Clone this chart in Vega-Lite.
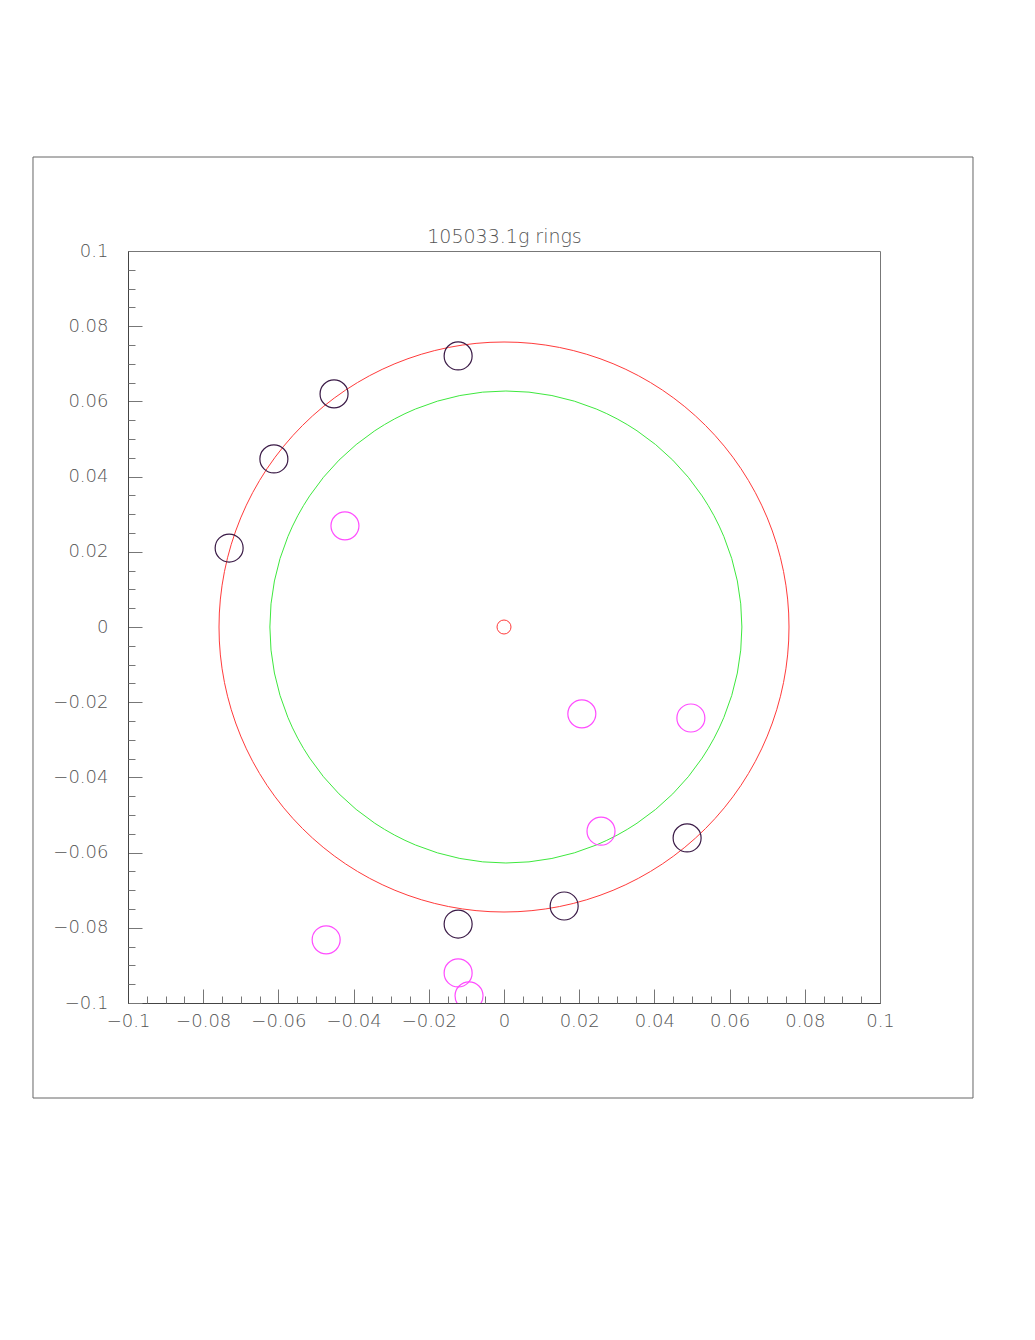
{
  "$schema": "https://vega.github.io/schema/vega-lite/v6.json",
  "autosize": {"type": "none"},
  "width": 752,
  "height": 752,
  "padding": {"left": 128, "top": 251, "right": 155, "bottom": 337},
  "background": "white",
  "config": {
    "view": {"stroke": "#777777", "strokeWidth": 1},
    "axis": {"grid": false, "domainColor": "#444444", "tickColor": "#777777", "labelColor": "#555555", "labelFont": "DejaVu Sans", "labelFontWeight": 200, "labelFontSize": 18}
  },
  "datasets": {
    "pts": [
      {"x": 0.0, "y": 0.0, "kind": "ring"},
      {"x": 0.0005, "y": 0.0, "kind": "inner"},
      {"x": 0.0, "y": 0.0, "kind": "center"},
      {"x": -0.0122, "y": 0.0721, "kind": "hit"},
      {"x": -0.0452, "y": 0.0620, "kind": "hit"},
      {"x": -0.0612, "y": 0.0447, "kind": "hit"},
      {"x": -0.0731, "y": 0.0210, "kind": "hit"},
      {"x": 0.0487, "y": -0.0561, "kind": "hit"},
      {"x": 0.0160, "y": -0.0742, "kind": "hit"},
      {"x": -0.0122, "y": -0.0790, "kind": "hit"},
      {"x": -0.0423, "y": 0.0269, "kind": "cand"},
      {"x": 0.0207, "y": -0.0231, "kind": "cand"},
      {"x": 0.0497, "y": -0.0242, "kind": "cand"},
      {"x": 0.0258, "y": -0.0543, "kind": "cand"},
      {"x": -0.0473, "y": -0.0832, "kind": "cand"},
      {"x": -0.0122, "y": -0.0920, "kind": "cand"},
      {"x": -0.0093, "y": -0.0981, "kind": "cand"}
    ],
    "frame": [
      {"x1": -0.12527, "x2": 0.12473, "y1": 0.125, "y2": -0.12527}
    ]
  },
  "resolve": {"axis": {"x": "independent", "y": "independent"}},
  "layer": [
    {
      "data": {"name": "frame"},
      "mark": {"type": "rect", "fill": null, "filled": false, "stroke": "#666666", "strokeWidth": 1, "clip": false},
      "encoding": {
        "x": {"field": "x1", "type": "quantitative", "scale": {"domain": [-0.1, 0.1], "nice": false, "zero": false}, "axis": {"orient": "top", "title": "105033.1g rings", "ticks": false, "labels": false, "domain": false, "titlePadding": 5, "titleFont": "DejaVu Sans", "titleFontWeight": 200, "titleFontSize": 19, "titleColor": "#555555"}},
        "x2": {"field": "x2"},
        "y": {"field": "y1", "type": "quantitative", "scale": {"domain": [-0.1, 0.1], "nice": false, "zero": false}, "axis": null},
        "y2": {"field": "y2"}
      }
    },
    {
      "data": {"name": "pts"},
      "transform": [{"filter": "datum.kind === 'ring'"}],
      "mark": {"type": "point", "shape": "circle", "filled": false, "stroke": "#ff3b3b", "strokeWidth": 1, "size": 324900, "opacity": 1, "clip": true},
      "encoding": {
        "x": {"field": "x", "type": "quantitative", "axis": null},
        "y": {"field": "y", "type": "quantitative", "axis": null}
      }
    },
    {
      "data": {"name": "pts"},
      "transform": [{"filter": "datum.kind === 'inner'"}],
      "mark": {"type": "point", "shape": "circle", "filled": false, "stroke": "#3ee83e", "strokeWidth": 1, "size": 222784, "opacity": 1, "clip": true},
      "encoding": {
        "x": {"field": "x", "type": "quantitative", "axis": null},
        "y": {"field": "y", "type": "quantitative", "axis": null}
      }
    },
    {
      "data": {"name": "pts"},
      "transform": [{"filter": "datum.kind === 'center'"}],
      "mark": {"type": "point", "shape": "circle", "filled": false, "stroke": "#ff3b3b", "strokeWidth": 1, "size": 196, "opacity": 1, "clip": true},
      "encoding": {
        "x": {"field": "x", "type": "quantitative", "axis": null},
        "y": {"field": "y", "type": "quantitative", "axis": null}
      }
    },
    {
      "data": {"name": "pts"},
      "transform": [{"filter": "datum.kind === 'hit'"}],
      "mark": {"type": "point", "shape": "circle", "filled": false, "stroke": "#3a1a46", "strokeWidth": 1.2, "size": 784, "opacity": 1, "clip": true},
      "encoding": {
        "x": {"field": "x", "type": "quantitative", "axis": {"orient": "bottom", "title": null, "values": [-0.1, -0.08, -0.06, -0.04, -0.02, 0, 0.02, 0.04, 0.06, 0.08, 0.1], "format": "~g", "tickSize": -14, "labelPadding": 23, "labelFlush": false, "labelOverlap": false, "labelBaseline": "top"}},
        "y": {"field": "y", "type": "quantitative", "axis": {"orient": "left", "title": null, "values": [-0.1, -0.08, -0.06, -0.04, -0.02, 0, 0.02, 0.04, 0.06, 0.08, 0.1], "format": "~g", "tickSize": -14, "labelPadding": 34, "labelFlush": false, "labelOverlap": false, "labelBaseline": "middle"}}
      }
    },
    {
      "data": {"name": "pts"},
      "transform": [{"filter": "datum.kind === 'cand'"}],
      "mark": {"type": "point", "shape": "circle", "filled": false, "stroke": "#ff4cff", "strokeWidth": 1.2, "size": 784, "opacity": 1, "clip": true},
      "encoding": {
        "x": {"field": "x", "type": "quantitative", "axis": {"orient": "bottom", "title": null, "values": [-0.095, -0.09, -0.085, -0.075, -0.07, -0.065, -0.055, -0.05, -0.045, -0.035, -0.03, -0.025, -0.015, -0.01, -0.005, 0.005, 0.01, 0.015, 0.025, 0.03, 0.035, 0.045, 0.05, 0.055, 0.065, 0.07, 0.075, 0.085, 0.09, 0.095], "tickSize": -7, "labels": false, "domain": false}},
        "y": {"field": "y", "type": "quantitative", "axis": {"orient": "left", "title": null, "values": [-0.095, -0.09, -0.085, -0.075, -0.07, -0.065, -0.055, -0.05, -0.045, -0.035, -0.03, -0.025, -0.015, -0.01, -0.005, 0.005, 0.01, 0.015, 0.025, 0.03, 0.035, 0.045, 0.05, 0.055, 0.065, 0.07, 0.075, 0.085, 0.09, 0.095], "tickSize": -7, "labels": false, "domain": false}}
      }
    }
  ]
}
